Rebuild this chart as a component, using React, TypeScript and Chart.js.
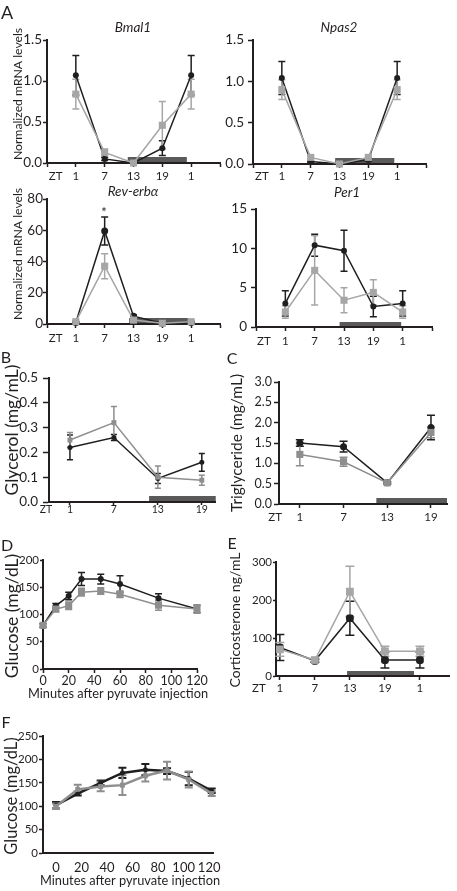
import React, { useEffect, useRef } from 'react';
import { Chart, registerables } from 'chart.js';

Chart.register(...registerables);

const FONT_FAMILY = 'Lato, "Open Sans", sans-serif';
const INK = '#231f20';
const CTRL = '#1f1f1f';
const KO = '#a6a6a6';
const KO_DARK = '#8e8e8e';
const DARK_BAR = '#5a5a5a';

// ---------- Panel A (ZT time points) ----------
const ztTickPos = [0, 1, 2, 3, 4, 5, 6];
const ztTickLabels = ['', '1', '7', '13', '19', '1', ''];
const ztPointPos = [1, 2, 3, 4, 5];

const bmal1Ctrl = [1.07, 0.05, 0.0, 0.18, 1.07];
const bmal1CtrlErr = [0.24, 0.02, 0.01, 0.09, 0.24];
const bmal1Ko = [0.84, 0.13, 0.0, 0.46, 0.84];
const bmal1KoErr = [0.18, 0.04, 0.01, 0.29, 0.18];
const bmal1YTicks = [0, 0.5, 1.0, 1.5];

const npas2Ctrl = [1.04, 0.03, 0.0, 0.05, 1.04];
const npas2CtrlErr = [0.2, 0.01, 0.01, 0.02, 0.2];
const npas2Ko = [0.9, 0.08, 0.0, 0.08, 0.9];
const npas2KoErr = [0.12, 0.02, 0.01, 0.03, 0.12];
const npas2YTicks = [0, 0.5, 1.0, 1.5];

const reverbCtrl = [1, 59.5, 5, 0.5, 1];
const reverbCtrlErr = [0.5, 9, 1, 0.3, 0.5];
const reverbKo = [1.5, 37, 2.5, 0.5, 1.5];
const reverbKoErr = [0.5, 8, 0.8, 0.3, 0.5];
const reverbYTicks = [0, 20, 40, 60, 80];

const per1Ctrl = [3.0, 10.4, 9.7, 2.6, 3.0];
const per1CtrlErr = [1.6, 1.4, 2.6, 1.3, 1.6];
const per1Ko = [1.9, 7.2, 3.4, 4.4, 1.9];
const per1KoErr = [0.8, 4.4, 1.6, 1.6, 0.8];
const per1YTicks = [0, 5, 10, 15];

// ---------- Panels B, C (ZT hours) ----------
const ztHours = [1, 7, 13, 19];
const ztHourLabels = ['1', '7', '13', '19'];

const glycerolCtrl = [0.22, 0.26, 0.095, 0.16];
const glycerolCtrlErr = [0.05, 0.012, 0.02, 0.036];
const glycerolKo = [0.25, 0.32, 0.1, 0.088];
const glycerolKoErr = [0.03, 0.065, 0.045, 0.02];
const glycerolYTicks = [0, 0.1, 0.2, 0.3, 0.4, 0.5];

const trigCtrl = [1.5, 1.41, 0.52, 1.88];
const trigCtrlErr = [0.08, 0.13, 0.03, 0.3];
const trigKo = [1.22, 1.04, 0.52, 1.76];
const trigKoErr = [0.28, 0.11, 0.03, 0.13];
const trigYTicks = [0, 0.5, 1.0, 1.5, 2.0, 2.5, 3.0];

// ---------- Panel D (pyruvate tolerance) ----------
const ptMinutesD = [0, 10, 20, 30, 45, 60, 90, 120];
const glucoseDCtrl = [80, 116, 134, 165, 165, 156, 130, 110];
const glucoseDCtrlErr = [3, 4, 7, 12, 9, 15, 8, 7];
const glucoseDKo = [80, 110, 116, 141, 143, 137, 117, 110];
const glucoseDKoErr = [3, 5, 7, 7, 6, 6, 9, 7];
const minuteTicks = [0, 20, 40, 60, 80, 100, 120];
const minuteLabels = ['0', '20', '40', '60', '80', '100', '120'];
const glucoseDYTicks = [0, 50, 100, 150, 200];

// ---------- Panel E (corticosterone) ----------
const corticoCtrl = [75, 40, 152, 42, 42];
const corticoCtrlErr = [34, 4, 45, 21, 21];
const corticoKo = [70, 42, 222, 65, 65];
const corticoKoErr = [18, 4, 67, 13, 13];
const corticoTickLabels = ['1', '7', '13', '19', '1'];
const corticoYTicks = [0, 100, 200, 300];

// ---------- Panel F (pyruvate tolerance 2) ----------
const ptMinutesF = [0, 17, 35, 52, 70, 87, 104, 122];
const glucoseFCtrl = [102, 127, 150, 171, 178, 175, 159, 133];
const glucoseFCtrlErr = [7, 4, 5, 11, 12, 6, 14, 5];
const glucoseFKo = [100, 136, 142, 145, 165, 176, 157, 127];
const glucoseFKoErr = [6, 10, 10, 21, 12, 19, 17, 5];
const glucoseFYTicks = [0, 50, 100, 150, 200, 250];

type Series = {
  xs: number[];
  ys: number[];
  err: number[];
  color: string;
  shape: string;
  radius: number;
  lineWidth: number;
  errWidth: number;
  cap: number;
};

type AxisSpec = {
  min?: number;
  max?: number;
  ticks: number[];
  labels?: string[];
  decimals?: number;
  font: number;
  tl: number;
  pad: number;
  tickColor?: string;
  title?: string;
  titleFont?: number;
  titleX?: number;
  titleY?: number;
};

type PanelSpec = {
  rect: number[];
  area: number[];
  x: AxisSpec;
  y: AxisSpec;
  series: Series[];
  darkBar?: number[];
  zt?: number;
};

function ser(xs: number[], ys: number[], err: number[], color: string, shape: string, radius: number, lineWidth = 1.5, errWidth = 1.5, cap = 3.5): Series {
  return { xs, ys, err, color, shape, radius, lineWidth, errWidth, cap };
}

function makeDecor(p: PanelSpec) {
  return {
    id: 'decor',
    beforeDatasetsDraw(chart: any) {
      const { ctx, chartArea } = chart;
      const xs = chart.scales.x;
      const ys = chart.scales.y;
      ctx.save();
      if (p.darkBar) {
        const [v0, v1, h] = p.darkBar;
        const x0 = xs.getPixelForValue(v0);
        const x1 = xs.getPixelForValue(v1);
        ctx.fillStyle = DARK_BAR;
        ctx.fillRect(x0, chartArea.bottom - h - 1, x1 - x0, h);
      }
      for (let k = p.series.length - 1; k >= 0; k--) {
        const s = p.series[k];
        ctx.strokeStyle = s.color;
        ctx.lineWidth = s.errWidth;
        s.xs.forEach((xv, i) => {
          const e = s.err[i];
          if (!e) return;
          const px = xs.getPixelForValue(xv);
          const top = ys.getPixelForValue(s.ys[i] + e);
          const bot = ys.getPixelForValue(Math.max(s.ys[i] - e, ys.min));
          ctx.beginPath();
          ctx.moveTo(px, top);
          ctx.lineTo(px, bot);
          ctx.moveTo(px - s.cap, top);
          ctx.lineTo(px + s.cap, top);
          if (s.ys[i] - e > ys.min) {
            ctx.moveTo(px - s.cap, bot);
            ctx.lineTo(px + s.cap, bot);
          }
          ctx.stroke();
        });
      }
      ctx.restore();
    },
    afterDraw(chart: any) {
      const xs = chart.scales.x;
      const ctx = chart.ctx;
      const [rl, rt] = p.rect;
      ctx.save();
      ctx.fillStyle = INK;
      ctx.textAlign = 'center';
      ctx.textBaseline = 'middle';
      if (p.zt !== undefined) {
        ctx.font = `${p.x.font}px ${FONT_FAMILY}`;
        const y = xs.top + p.x.tl + p.x.pad + (p.x.font * 1.2) / 2;
        ctx.fillText('ZT', xs.getPixelForValue(p.zt), y);
      }
      if (p.x.title) {
        ctx.font = `${p.x.titleFont}px ${FONT_FAMILY}`;
        ctx.fillText(p.x.title, (p.x.titleX as number) - rl, (p.x.titleY as number) - rt);
      }
      if (p.y.title) {
        ctx.font = `${p.y.titleFont}px ${FONT_FAMILY}`;
        ctx.translate((p.y.titleX as number) - rl, (p.y.titleY as number) - rt);
        ctx.rotate(-Math.PI / 2);
        ctx.fillText(p.y.title, 0, 0);
      }
      ctx.restore();
    },
  };
}

function axisOptions(a: AxisSpec, isX: boolean, size: number) {
  return {
    type: 'linear',
    min: a.min !== undefined ? a.min : a.ticks[0],
    max: a.max !== undefined ? a.max : a.ticks[a.ticks.length - 1],
    afterFit: (s: any) => {
      if (isX) s.height = size;
      else s.width = size;
    },
    afterBuildTicks: (s: any) => {
      s.ticks = a.ticks.map((v) => ({ value: v }));
    },
    ticks: {
      autoSkip: false,
      maxRotation: 0,
      minRotation: 0,
      padding: a.pad,
      color: INK,
      font: { family: FONT_FAMILY, size: a.font, lineHeight: 1.2 },
      callback: (v: any, i: number) =>
        a.labels ? a.labels[i] : Number(v).toFixed(a.decimals || 0),
    },
    grid: {
      display: true,
      drawOnChartArea: false,
      drawTicks: true,
      tickLength: a.tl,
      tickColor: a.tickColor || INK,
      tickWidth: 1.5,
    },
    border: { display: true, color: INK, width: 2 },
    title: { display: false },
  };
}

function buildConfig(p: PanelSpec): any {
  const [rl, rt, rw, rh] = p.rect;
  const [al, at, ar, ab] = p.area;
  const yWidth = al - rl;
  const xHeight = rt + rh - ab;
  const datasets = p.series.map((s) => ({
    data: s.xs.map((x, i) => ({ x, y: s.ys[i] })),
    borderColor: s.color,
    backgroundColor: s.color,
    pointBackgroundColor: s.color,
    borderWidth: s.lineWidth,
    pointStyle: s.shape,
    pointRadius: s.radius,
    pointHoverRadius: s.radius,
    pointBorderWidth: 0,
    tension: 0,
    fill: false,
    clip: false,
  }));
  return {
    type: 'line',
    data: { datasets },
    options: {
      animation: false,
      responsive: false,
      maintainAspectRatio: false,
      devicePixelRatio: 1,
      events: [],
      layout: { padding: { left: 0, top: at - rt, right: rl + rw - ar, bottom: 0 } },
      plugins: { legend: { display: false }, tooltip: { enabled: false }, title: { display: false } },
      scales: {
        x: axisOptions(p.x, true, xHeight),
        y: axisOptions(p.y, false, yWidth),
      },
    },
    plugins: [makeDecor(p)],
  };
}

const A_YTITLE = 'Normalized mRNA levels';
const PYR_TITLE = 'Minutes after pyruvate injection';

const panels: PanelSpec[] = [
  {
    rect: [0, 14, 228, 174],
    area: [47, 40, 220, 163],
    x: { min: 0, max: 6, ticks: ztTickPos, labels: ztTickLabels, font: 11.5, tl: 4, pad: 2 },
    y: { ticks: bmal1YTicks, decimals: 1, font: 13.5, tl: 4, pad: 1, title: A_YTITLE, titleFont: 12.2, titleX: 18, titleY: 94 },
    series: [
      ser(ztPointPos, bmal1Ko, bmal1KoErr, KO, 'rect', 5),
      ser(ztPointPos, bmal1Ctrl, bmal1CtrlErr, CTRL, 'circle', 3),
    ],
    darkBar: [2.8, 4.85, 5],
    zt: 0.3,
  },
  {
    rect: [218, 18, 239, 170],
    area: [253, 40, 426, 164],
    x: { min: 0, max: 6, ticks: ztTickPos, labels: ztTickLabels, font: 11.5, tl: 4, pad: 1.5 },
    y: { ticks: npas2YTicks, decimals: 1, font: 13.5, tl: 5, pad: 4 },
    series: [
      ser(ztPointPos, npas2Ko, npas2KoErr, KO, 'rect', 5),
      ser(ztPointPos, npas2Ctrl, npas2CtrlErr, CTRL, 'circle', 3),
    ],
    darkBar: [2.85, 4.9, 5],
    zt: 0.31,
  },
  {
    rect: [0, 176, 228, 176],
    area: [47, 199, 220, 324],
    x: { min: 0, max: 6, ticks: ztTickPos, labels: ztTickLabels, font: 11.5, tl: 4, pad: 3 },
    y: { ticks: reverbYTicks, decimals: 0, font: 13.5, tl: 4, pad: 0, title: A_YTITLE, titleFont: 12.2, titleX: 18, titleY: 254 },
    series: [
      ser(ztPointPos, reverbKo, reverbKoErr, KO, 'rect', 5),
      ser(ztPointPos, reverbCtrl, reverbCtrlErr, CTRL, 'circle', 3.5),
    ],
    darkBar: [2.85, 4.9, 5],
    zt: 0.3,
  },
  {
    rect: [218, 188, 239, 164],
    area: [256, 209, 432, 327],
    x: { min: 0, max: 6, ticks: ztTickPos, labels: ztTickLabels, font: 11.5, tl: 4, pad: 3 },
    y: { ticks: per1YTicks, decimals: 0, font: 13.5, tl: 5, pad: 4 },
    series: [
      ser(ztPointPos, per1Ko, per1KoErr, KO, 'rect', 5),
      ser(ztPointPos, per1Ctrl, per1CtrlErr, CTRL, 'circle', 3),
    ],
    darkBar: [2.85, 4.95, 4],
    zt: 0.27,
  },
  {
    rect: [0, 355, 228, 165],
    area: [49, 378, 215, 502],
    x: { min: -1.86, max: 20.8, ticks: ztHours, labels: ztHourLabels, font: 10.5, tl: 3, pad: -2 },
    y: { ticks: glycerolYTicks, decimals: 1, font: 13.5, tl: 6, pad: 5, title: 'Glycerol (mg/mL)', titleFont: 17.5, titleX: 12.5, titleY: 430 },
    series: [
      ser(ztHours, glycerolKo, glycerolKoErr, KO_DARK, 'rect', 3.5, 1.5, 1.5, 3),
      ser(ztHours, glycerolCtrl, glycerolCtrlErr, CTRL, 'circle', 2.5, 1.5, 1.5, 3),
    ],
    darkBar: [11.8, 20.9, 5],
    zt: -2.27,
  },
  {
    rect: [226, 365, 231, 162],
    area: [279, 382, 447, 504],
    x: { min: -1.86, max: 21.2, ticks: ztHours, labels: ztHourLabels, font: 11.5, tl: 4, pad: 2 },
    y: { ticks: trigYTicks, decimals: 1, font: 12.5, tl: 5, pad: 2, title: 'Triglyceride (mg/mL)', titleFont: 15.5, titleX: 236.5, titleY: 443 },
    series: [
      ser(ztHours, trigKo, trigKoErr, KO_DARK, 'rect', 5, 1.5, 1.5, 4),
      ser(ztHours, trigCtrl, trigCtrlErr, CTRL, 'circle', 3.5, 1.5, 1.5, 4),
    ],
    darkBar: [11.5, 21.2, 5],
    zt: -2.4,
  },
  {
    rect: [0, 540, 228, 165],
    area: [43, 560, 197, 669],
    x: { min: 0, max: 120, ticks: minuteTicks, labels: minuteLabels, font: 12.5, tl: 4, pad: 0, title: PYR_TITLE, titleFont: 12.8, titleX: 118, titleY: 694 },
    y: { ticks: glucoseDYTicks, decimals: 0, font: 11.5, tl: 3, pad: 1, title: 'Glucose (mg/dL)', titleFont: 17.5, titleX: 12, titleY: 616 },
    series: [
      ser(ptMinutesD, glucoseDKo, glucoseDKoErr, KO_DARK, 'rect', 5, 1.5, 1.5, 3.5),
      ser(ptMinutesD, glucoseDCtrl, glucoseDCtrlErr, CTRL, 'circle', 3, 1.5, 1.5, 3.5),
    ],
  },
  {
    rect: [226, 520, 231, 180],
    area: [276, 562, 449, 676],
    x: { min: 0.89, max: 5.83, ticks: ztPointPos, labels: corticoTickLabels, font: 11.5, tl: 4, pad: 1.5 },
    y: { ticks: corticoYTicks, decimals: 0, font: 11.5, tl: 3, pad: 1, title: 'Corticosterone ng/mL', titleFont: 14, titleX: 235, titleY: 620 },
    series: [
      ser(ztPointPos, corticoKo, corticoKoErr, KO, 'rect', 5.5, 1.5, 1.5, 4.5),
      ser(ztPointPos, corticoCtrl, corticoCtrlErr, CTRL, 'rectRounded', 4.5, 1.5, 1.5, 4.5),
    ],
    darkBar: [2.92, 4.83, 4],
    zt: 0.4,
  },
  {
    rect: [0, 722, 228, 169],
    area: [43, 736, 213, 853],
    x: { min: -10.2, max: 123, ticks: minuteTicks, labels: minuteLabels, font: 13, tl: 3, pad: 4, tickColor: 'rgba(0,0,0,0)', title: PYR_TITLE, titleFont: 12.8, titleX: 130, titleY: 881 },
    y: { ticks: glucoseFYTicks, decimals: 0, font: 11.5, tl: 4, pad: 1, title: 'Glucose (mg/dL)', titleFont: 16.5, titleX: 12, titleY: 796 },
    series: [
      ser(ptMinutesF, glucoseFKo, glucoseFKoErr, KO_DARK, 'rect', 3.5, 2.5, 2, 4),
      ser(ptMinutesF, glucoseFCtrl, glucoseFCtrlErr, CTRL, 'circle', 2.5, 2.5, 2, 4),
    ],
  },
];

const texts = [
  { t: 'A', x: 7, y: 12, size: 18 },
  { t: 'B', x: 6, y: 357, size: 16 },
  { t: 'C', x: 232, y: 358, size: 16 },
  { t: 'D', x: 7, y: 545, size: 16 },
  { t: 'E', x: 232, y: 543, size: 16 },
  { t: 'F', x: 6, y: 722, size: 16 },
  { t: 'Bmal1', x: 133, y: 28, size: 13.5, italic: true },
  { t: 'Npas2', x: 339, y: 28, size: 13.5, italic: true },
  { t: 'Rev-erbα', x: 133, y: 192, size: 13.5, italic: true },
  { t: 'Per1', x: 347, y: 193, size: 13.5, italic: true },
  { t: '*', x: 104, y: 212, size: 13 },
];

function Panel({ spec }: { spec: PanelSpec }) {
  const ref = useRef<HTMLCanvasElement>(null);
  useEffect(() => {
    if (!ref.current) return;
    const chart = new Chart(ref.current, buildConfig(spec));
    return () => chart.destroy();
  }, [spec]);
  const [l, t, w, h] = spec.rect;
  return (
    <canvas
      ref={ref}
      width={w}
      height={h}
      style={{ position: 'absolute', left: l, top: t, width: w, height: h }}
    />
  );
}

export default function App() {
  return (
    <div
      style={{
        position: 'absolute',
        left: 0,
        top: 0,
        width: 457,
        height: 891,
        background: '#ffffff',
        overflow: 'hidden',
        fontFamily: FONT_FAMILY,
        color: INK,
      }}
    >
      {panels.map((p, i) => (
        <Panel key={i} spec={p} />
      ))}
      {texts.map((tx, i) => (
        <div
          key={'t' + i}
          style={{
            position: 'absolute',
            left: tx.x,
            top: tx.y,
            transform: 'translate(-50%, -50%)',
            fontSize: tx.size,
            lineHeight: 1,
            whiteSpace: 'nowrap',
            fontStyle: tx.italic ? 'italic' : 'normal',
          }}
        >
          {tx.t}
        </div>
      ))}
    </div>
  );
}
